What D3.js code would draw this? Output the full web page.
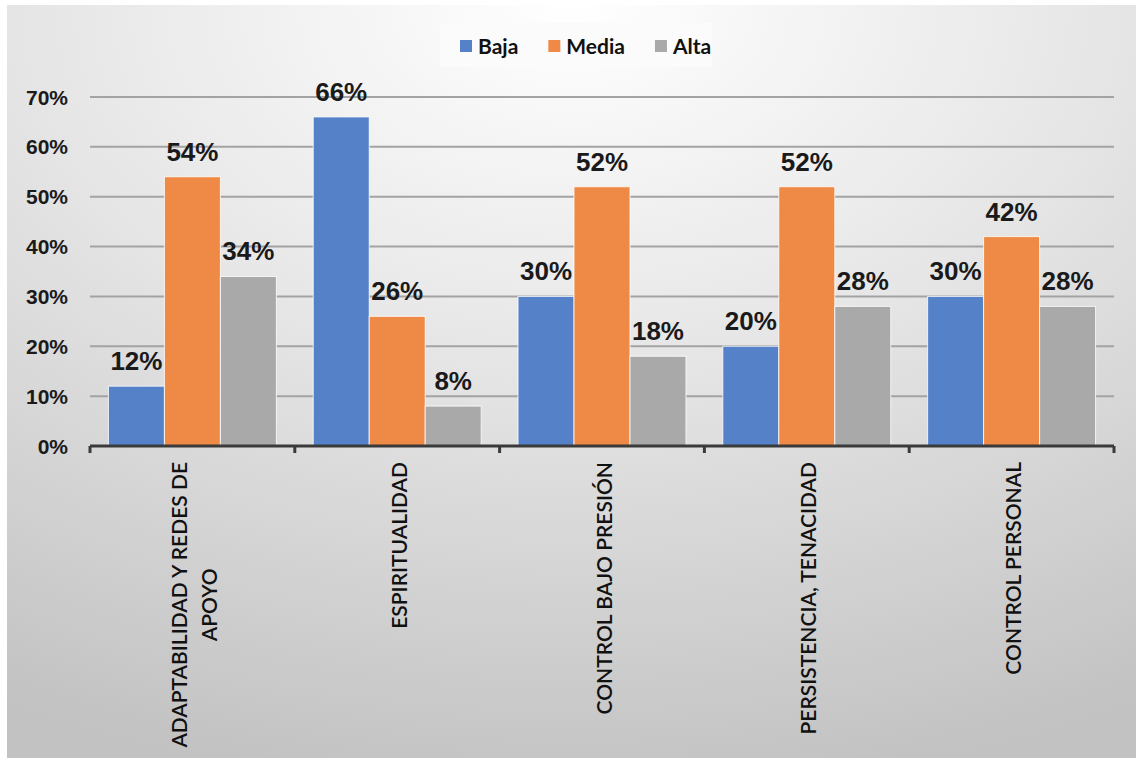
<!DOCTYPE html>
<html><head><meta charset="utf-8">
<script src="https://cdn.jsdelivr.net/npm/d3@7"></script>
<style>html,body{margin:0;padding:0;background:#fff;}svg{display:block;}</style>
</head><body>
<svg id="chart" width="1136" height="758"></svg>
<script>
const categories = ["ADAPTABILIDAD Y REDES DE APOYO", "ESPIRITUALIDAD", "CONTROL BAJO PRESIÓN", "PERSISTENCIA, TENACIDAD", "CONTROL PERSONAL"];
const seriesNames = ["Baja", "Media", "Alta"];
const baja  = [12, 66, 30, 20, 30];
const media = [54, 26, 52, 52, 42];
const alta  = [34, 8, 18, 28, 28];
const yTicks = [0, 10, 20, 30, 40, 50, 60, 70];
const colors = ["#5581c9", "#ee8a45", "#a9a9a9"];

const values = [baja, media, alta];
const svg = d3.select("#chart");
const W = 1136, H = 758;
const plot = {left: 90, right: 1114, top: 97, bottom: 446};

const defs = svg.append("defs");
const grad = defs.append("radialGradient").attr("id", "bg")
  .attr("cx", "50%").attr("cy", "0%").attr("r", "105%").attr("fx", "50%").attr("fy", "0%");
grad.append("stop").attr("offset", "0%").attr("stop-color", "#ffffff");
grad.append("stop").attr("offset", "45%").attr("stop-color", "#e6e6e6");
grad.append("stop").attr("offset", "100%").attr("stop-color", "#c2c2c2");

svg.append("rect").attr("x", 7).attr("y", 5).attr("width", W - 7).attr("height", H - 5)
  .attr("fill", "url(#bg)");

const x = d3.scaleBand().domain(categories).range([plot.left, plot.right]);
const xs = d3.scaleBand().domain(seriesNames).range([x.bandwidth() * 0.09, x.bandwidth() * 0.91]);
const y = d3.scaleLinear().domain([0, 70]).range([plot.bottom, plot.top]);

// gridlines
svg.append("g").selectAll("line").data(yTicks.filter(d => d > 0)).join("line")
  .attr("x1", plot.left).attr("x2", plot.right)
  .attr("y1", d => y(d)).attr("y2", d => y(d))
  .attr("stroke", "#a3a3a3").attr("stroke-width", 2);

// y labels
svg.append("g").selectAll("text").data(yTicks).join("text")
  .attr("x", 68).attr("y", d => y(d)).attr("dy", "0.36em")
  .attr("text-anchor", "end")
  .attr("font-family", "Liberation Sans, Arial, sans-serif").attr("font-weight", "bold")
  .attr("font-size", 21).attr("fill", "#1a1a1a")
  .text(d => d + "%");

// bars
const flat = [];
categories.forEach((c, i) => seriesNames.forEach((s, j) => flat.push({c, s, j, v: values[j][i]})));
svg.append("g").selectAll("rect").data(flat).join("rect")
  .attr("x", d => x(d.c) + xs(d.s))
  .attr("y", d => y(d.v))
  .attr("width", xs.bandwidth())
  .attr("height", d => y(0) - y(d.v))
  .attr("fill", d => colors[d.j])
  .attr("stroke", "rgba(255,255,255,0.8)").attr("stroke-width", 1);

// data labels
svg.append("g").selectAll("text").data(flat).join("text")
  .attr("x", d => x(d.c) + xs(d.s) + xs.bandwidth() / 2)
  .attr("y", d => y(d.v) - 16)
  .attr("text-anchor", "middle")
  .attr("font-family", "Liberation Sans, Arial, sans-serif").attr("font-weight", "bold")
  .attr("font-size", 26).attr("fill", "#1a1a1a")
  .text(d => d.v + "%");

// x axis
const ax = svg.append("g");
ax.append("line").attr("x1", plot.left).attr("x2", plot.right)
  .attr("y1", plot.bottom).attr("y2", plot.bottom)
  .attr("stroke", "#3a3a3a").attr("stroke-width", 3);
const edges = categories.map(c => x(c)).concat([plot.right]);
ax.selectAll("line.tick").data(edges).join("line").attr("class", "tick")
  .attr("x1", d => d).attr("x2", d => d)
  .attr("y1", plot.bottom).attr("y2", plot.bottom + 7)
  .attr("stroke", "#3a3a3a").attr("stroke-width", 3);

// category labels (rotated)
const labFont = "Lato, 'Open Sans', sans-serif";
const labSize = 21;
categories.forEach(c => {
  const g = svg.append("g")
    .attr("transform", `translate(${x(c) + x.bandwidth() / 2}, 462) rotate(-90)`);
  const words = c.split(" ");
  const tmp = g.append("text").attr("font-family", labFont).attr("font-size", labSize).attr("font-weight", 600);
  let lines = [], cur = "";
  words.forEach(w => {
    const test = cur ? cur + " " + w : w;
    tmp.text(test);
    if (tmp.node().getComputedTextLength() > 300 && cur) { lines.push(cur); cur = w; }
    else cur = test;
  });
  lines.push(cur);
  tmp.text(lines[0]);
  const len0 = tmp.node().getComputedTextLength();
  tmp.remove();
  const lh = 30;
  lines.forEach((ln, k) => {
    g.append("text")
      .attr("x", -len0 / 2)
      .attr("y", (k - (lines.length - 1) / 2) * lh + 2)
      .attr("dy", "0.36em")
      .attr("text-anchor", "middle")
      .attr("font-family", labFont).attr("font-size", labSize).attr("font-weight", 600)
      .attr("fill", "#111")
      .text(ln);
  });
});

// legend
const leg = svg.append("g");
leg.append("rect").attr("x", 440).attr("y", 23).attr("width", 272).attr("height", 44)
  .attr("fill", "#fbfbfb");
let lx = 460;
seriesNames.forEach((s, j) => {
  leg.append("rect").attr("x", lx).attr("y", 40).attr("width", 12).attr("height", 12).attr("fill", colors[j]);
  const t = leg.append("text").attr("x", lx + 18).attr("y", 46).attr("dy", "0.36em")
    .attr("font-family", labFont).attr("font-weight", "bold").attr("font-size", 21)
    .attr("fill", "#111").text(s);
  lx += 18 + t.node().getComputedTextLength() + 30;
});
</script>
</body></html>
